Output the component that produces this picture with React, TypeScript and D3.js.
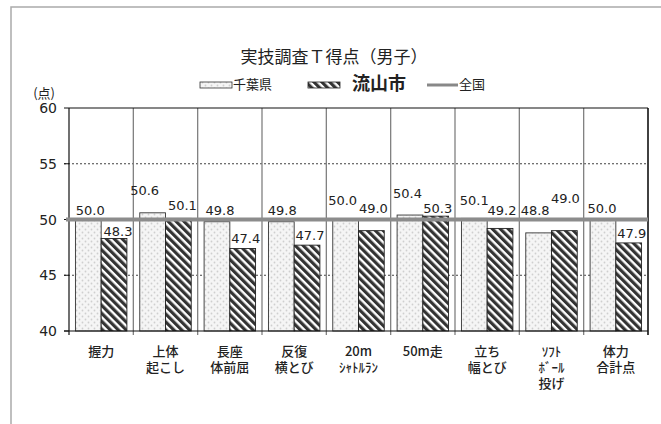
// 実技調査 T得点（男子） — grouped bar chart, 千葉県 vs 流山市, with 全国 = 50 reference line.

import * as d3 from "d3";

const categories = [
  ["握力"],
  ["上体", "起こし"],
  ["長座", "体前屈"],
  ["反復", "横とび"],
  ["20m", "ｼｬﾄﾙﾗﾝ"],
  ["50m走"],
  ["立ち", "幅とび"],
  ["ｿﾌﾄ", "ﾎﾞｰﾙ", "投げ"],
  ["体力", "合計点"],
];
const chiba = [50.0, 50.6, 49.8, 49.8, 50.0, 50.4, 50.1, 48.8, 50.0];
const nagareyama = [48.3, 50.1, 47.4, 47.7, 49.0, 50.3, 49.2, 49.0, 47.9];
const national = 50;
const yTicks = [40, 45, 50, 55, 60];

// hand-placed label nudges (dx, dy from bar top), the way the original was laid out
const chibaNudge = [[2, -4.5], [-8, -18], [3, -7], [1, -7], [-3, -14.5], [-2.5, -17], [0, -13], [-3.5, -18], [-1, -6.5]];
const nagaNudge = [[4, -2.5], [4, -8], [3, -5.5], [3, -5], [2, -17.5], [2, -3], [2, -13], [1, -28], [3, -5]];

const W = 661;
const H = 424;
const PLOT = { left: 69, right: 648, top: 108, bottom: 331 };
const NUM_FONT = "'DejaVu Sans', 'Noto Sans CJK JP', sans-serif";
const JP_FONT = "'Noto Sans CJK JP', 'DejaVu Sans', sans-serif";

export default function App() {
  const keys = categories.map((_, i) => String(i));
  const x = d3.scaleBand().domain(keys).range([PLOT.left, PLOT.right]);
  const bw = x.bandwidth();
  const inner = d3.scaleBand().domain(["chiba", "naga"]).range([bw * 0.1, bw * 0.9]);
  const y = d3.scaleLinear().domain([40, 60]).range([PLOT.bottom, PLOT.top]);

  const series = [
    { key: "chiba", values: chiba, fill: "url(#dots)", stroke: "#333", nudge: chibaNudge },
    { key: "naga", values: nagareyama, fill: "url(#stripes)", stroke: "#222", nudge: nagaNudge },
  ];

  const boundaries = [...keys.map((k) => x(k)!), PLOT.right];

  return (
    <svg width={W} height={H} style={{ position: "absolute", left: 0, top: 0, background: "#fff" }}>
      <defs>
        <pattern id="dots" width="6" height="6" patternUnits="userSpaceOnUse">
          <rect width="6" height="6" fill="#f5f5f5" />
          <circle cx="1.5" cy="1.5" r="0.9" fill="#cfcfcf" />
          <circle cx="4.5" cy="4.5" r="0.9" fill="#cfcfcf" />
        </pattern>
        <pattern id="stripes" width="5.6" height="5.6" patternUnits="userSpaceOnUse" patternTransform="rotate(-45)">
          <rect width="5.6" height="5.6" fill="#fff" />
          <rect width="3.2" height="5.6" fill="#333" />
        </pattern>
      </defs>

      {/* outer frame */}
      <rect x={11} y={7} width={W} height={H} fill="none" stroke="#aaa" strokeWidth={1.5} />

      {/* title */}
      <text x={334} y={63} textAnchor="middle" fontFamily={JP_FONT} fontSize={17} fill="#222">
        実技調査Ｔ得点（男子）
      </text>

      {/* legend */}
      <g fontFamily={JP_FONT} fill="#222">
        <rect x={200} y={82} width={32} height={6} fill="url(#dots)" stroke="#333" strokeWidth={0.8} />
        <text x={233} y={89} fontSize={13}>千葉県</text>
        <rect x={308} y={82} width={32} height={6} fill="url(#stripes)" stroke="#222" strokeWidth={0.8} />
        <text x={352} y={90} fontSize={18} fontWeight="bold">流山市</text>
        <line x1={427} x2={458} y1={85} y2={85} stroke="#888" strokeWidth={3} />
        <text x={459} y={89} fontSize={13}>全国</text>
      </g>

      {/* y axis title */}
      <text x={55} y={98} textAnchor="end" fontFamily={JP_FONT} fontSize={13} fill="#222">(点)</text>

      {/* horizontal dashed grid */}
      {yTicks
        .filter((t) => t !== 40 && t !== 60 && t !== national)
        .map((t) => (
          <line key={t} x1={64} x2={PLOT.right} y1={y(t)} y2={y(t)} stroke="#111" strokeWidth={0.8} strokeDasharray="2 2" />
        ))}

      {/* category separators */}
      {boundaries.slice(1, -1).map((bx, i) => (
        <line key={i} x1={bx} x2={bx} y1={PLOT.top} y2={PLOT.bottom + 4} stroke="#808080" strokeWidth={1.3} />
      ))}

      {/* bars */}
      {series.map((s) =>
        s.values.map((v, i) => (
          <rect
            key={s.key + i}
            x={x(keys[i])! + inner(s.key)!}
            y={y(v)}
            width={inner.bandwidth()}
            height={y(40) - y(v)}
            fill={s.fill}
            stroke={s.stroke}
            strokeWidth={0.9}
          />
        ))
      )}

      {/* frame / axes */}
      <line x1={PLOT.left} x2={PLOT.right} y1={PLOT.top} y2={PLOT.top} stroke="#111" strokeWidth={1.2} />
      <line x1={64} x2={PLOT.right} y1={PLOT.bottom} y2={PLOT.bottom} stroke="#111" strokeWidth={1.2} />
      <line x1={PLOT.left} x2={PLOT.left} y1={PLOT.top} y2={PLOT.bottom + 4} stroke="#111" strokeWidth={1.2} />
      <line x1={PLOT.right} x2={PLOT.right} y1={PLOT.top} y2={PLOT.bottom + 4} stroke="#111" strokeWidth={1.6} />
      {yTicks.map((t) => (
        <line key={t} x1={64} x2={PLOT.left} y1={y(t)} y2={y(t)} stroke="#111" strokeWidth={1} />
      ))}

      {/* 全国 reference line */}
      <line x1={66} x2={PLOT.right} y1={y(national)} y2={y(national)} stroke="#8c8c8c" strokeWidth={4} />

      {/* y tick labels */}
      {yTicks.map((t) => (
        <text key={t} x={57} y={y(t) + 5} textAnchor="end" fontFamily={NUM_FONT} fontSize={14} fill="#222">
          {t}
        </text>
      ))}

      {/* value labels */}
      {series.map((s) =>
        s.values.map((v, i) => (
          <text
            key={s.key + "l" + i}
            x={x(keys[i])! + inner(s.key)! + inner.bandwidth() / 2 + s.nudge[i][0]}
            y={y(v) + s.nudge[i][1]}
            textAnchor="middle"
            fontFamily={NUM_FONT}
            fontSize={13}
            fill="#222"
          >
            {v.toFixed(1)}
          </text>
        ))
      )}

      {/* category labels, one text per line */}
      {categories.map((lines, i) =>
        lines.map((ln, j) => (
          <text
            key={i + "-" + j}
            x={x(keys[i])! + bw / 2}
            y={356 + j * 16}
            textAnchor="middle"
            fontFamily={JP_FONT}
            fontSize={13}
            fontWeight={500}
            fill="#222"
          >
            {ln}
          </text>
        ))
      )}
    </svg>
  );
}
